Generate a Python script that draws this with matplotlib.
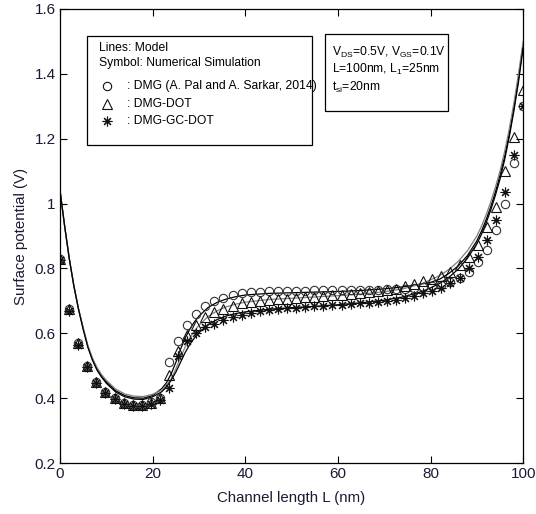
import numpy as np
import matplotlib
matplotlib.use("Agg")
import matplotlib.pyplot as plt
from matplotlib.patches import Rectangle

plt.rcParams['font.family'] = ['Liberation Sans', 'DejaVu Sans']
plt.rcParams['mathtext.fontset'] = 'custom'
plt.rcParams['mathtext.rm'] = 'Liberation Sans'

# ---- simulation points (symbols) ----
x_sim = np.linspace(0, 100, 52)

dmg_sim = [0.83, 0.675, 0.569, 0.50, 0.451, 0.42, 0.40, 0.386, 0.380, 0.380, 0.388, 0.40,
           0.51, 0.575, 0.625, 0.66, 0.685, 0.70, 0.71, 0.718, 0.723, 0.726, 0.728, 0.729,
           0.73, 0.73, 0.731, 0.731, 0.732, 0.732, 0.733, 0.733, 0.734, 0.734, 0.735, 0.735,
           0.736, 0.737, 0.738, 0.74, 0.742, 0.745, 0.75, 0.757, 0.77, 0.79, 0.82, 0.857,
           0.918, 1.0, 1.124, 1.30]

dot_sim = [0.83, 0.675, 0.569, 0.50, 0.451, 0.42, 0.40, 0.386, 0.380, 0.380, 0.386, 0.40,
           0.47, 0.545, 0.595, 0.625, 0.65, 0.665, 0.675, 0.685, 0.692, 0.697, 0.70, 0.703,
           0.705, 0.707, 0.709, 0.711, 0.713, 0.715, 0.717, 0.719, 0.721, 0.723, 0.726, 0.729,
           0.733, 0.738, 0.745, 0.752, 0.76, 0.768, 0.777, 0.788, 0.81, 0.836, 0.872, 0.929,
           0.99, 1.10, 1.205, 1.35]

gcdot_sim = [0.825, 0.67, 0.565, 0.497, 0.448, 0.417, 0.397, 0.383, 0.377, 0.377, 0.383, 0.395,
             0.43, 0.53, 0.575, 0.60, 0.618, 0.63, 0.64, 0.65, 0.657, 0.664, 0.668, 0.672,
             0.675, 0.677, 0.679, 0.681, 0.683, 0.685, 0.686, 0.688, 0.69, 0.692, 0.694, 0.697,
             0.70, 0.704, 0.71, 0.716, 0.723, 0.73, 0.74, 0.754, 0.77, 0.80, 0.836, 0.888,
             0.949, 1.037, 1.15, 1.30]

# ---- model curves (lines) ----
x_model = [0, 1, 2, 3, 4, 5, 6, 7, 8, 9, 10, 12, 14, 16, 18, 20, 22, 23, 24, 25, 26, 27,
           28, 29, 30, 32, 34, 36, 38, 40, 45, 50, 55, 60, 65, 70, 74, 78, 80, 82, 84, 86,
           88, 90, 91, 92, 93, 94, 95, 96, 97, 98, 99, 100]

dmg_model = [1.04, 0.93, 0.83, 0.745, 0.675, 0.615, 0.56, 0.52, 0.49, 0.468, 0.45, 0.423,
             0.408, 0.401, 0.40, 0.408, 0.43, 0.448, 0.475, 0.51, 0.55, 0.585, 0.612, 0.635,
             0.653, 0.68, 0.696, 0.706, 0.713, 0.718, 0.723, 0.725, 0.727, 0.729, 0.732,
             0.737, 0.743, 0.752, 0.757, 0.767, 0.785, 0.808, 0.84, 0.885, 0.915, 0.95,
             0.99, 1.035, 1.087, 1.145, 1.215, 1.295, 1.385, 1.49]

dot_model = [1.04, 0.93, 0.83, 0.745, 0.675, 0.617, 0.563, 0.524, 0.494, 0.472, 0.455, 0.428,
             0.413, 0.406, 0.405, 0.412, 0.425, 0.44, 0.46, 0.49, 0.525, 0.557, 0.585, 0.607,
             0.625, 0.652, 0.67, 0.682, 0.69, 0.696, 0.704, 0.708, 0.712, 0.716, 0.721,
             0.728, 0.737, 0.752, 0.765, 0.778, 0.797, 0.822, 0.855, 0.90, 0.93, 0.965,
             1.005, 1.05, 1.10, 1.16, 1.23, 1.31, 1.40, 1.50]

gcdot_model = [1.04, 0.93, 0.83, 0.745, 0.673, 0.612, 0.557, 0.517, 0.486, 0.464, 0.446, 0.419,
               0.404, 0.397, 0.396, 0.404, 0.42, 0.435, 0.455, 0.48, 0.51, 0.54, 0.565, 0.585,
               0.602, 0.627, 0.643, 0.654, 0.661, 0.666, 0.674, 0.679, 0.683, 0.688, 0.694,
               0.702, 0.712, 0.728, 0.74, 0.754, 0.773, 0.798, 0.832, 0.876, 0.905, 0.94,
               0.98, 1.025, 1.075, 1.135, 1.205, 1.285, 1.375, 1.48]

x_ticks = [0, 20, 40, 60, 80, 100]
y_ticks = [0.2, 0.4, 0.6, 0.8, 1.0, 1.2, 1.4, 1.6]
y_ticklabels = ['0.2', '0.4', '0.6', '0.8', '1', '1.2', '1.4', '1.6']

fig = plt.figure(figsize=(5.36, 5.14), dpi=100)
ax = fig.add_axes([0.112, 0.0992, 0.864, 0.8833])

# model lines
ax.plot(x_model, dmg_model, '-', color='black', lw=0.9)
ax.plot(x_model, dot_model, '-', color='#808080', lw=0.9)
ax.plot(x_model, gcdot_model, '-', color='black', lw=0.9)

# simulation symbols
ax.plot(x_sim, dmg_sim, 'o', mfc='none', mec='#333333', ms=6, mew=0.8, ls='none')
ax.plot(x_sim, dot_sim, '^', mfc='none', mec='#111111', ms=6.5, mew=0.8, ls='none')
ax.plot(x_sim, gcdot_sim, marker=(8, 2, 0), color='#111111', ms=7, mew=0.8, ls='none')

ax.set_xlim(0, 100)
ax.set_ylim(0.2, 1.6)
ax.set_xticks(x_ticks)
ax.set_yticks(y_ticks)
ax.set_yticklabels(y_ticklabels)
ax.tick_params(direction='in', length=5, width=0.8, top=True, right=True,
               labelsize=11, labelcolor='#1a1a33', pad=3)
for s in ax.spines.values():
    s.set_linewidth(0.9)

ax.set_xlabel('Channel length L (nm)', fontsize=10.8, color='#1a1a33', labelpad=7)
ax.set_ylabel('Surface potential (V)', fontsize=10.8, color='#1a1a33', labelpad=5)

FS = 8.7
# key box
ax.add_patch(Rectangle((0.0583, 0.7004), 0.486, 0.2401, transform=ax.transAxes,
                       fill=True, fc='white', ec='black', lw=0.9, zorder=5))
ax.text(0.0842, 0.914, 'Lines: Model', transform=ax.transAxes, fontsize=FS,
        va='center', zorder=6)
ax.text(0.0842, 0.881, 'Symbol: Numerical Simulation', transform=ax.transAxes,
        fontsize=FS, va='center', zorder=6)
key_rows = [('o', 6, ': DMG (A. Pal and A. Sarkar, 2014)', 0.8304),
            ('^', 6.5, ': DMG-DOT', 0.7907),
            ((8, 2, 0), 7, ': DMG-GC-DOT', 0.7533)]
for mk, ms, label, yy in key_rows:
    ax.plot([0.1009], [yy], marker=mk, ms=ms, mfc='none', mec='#111111', mew=0.8,
            ls='none', transform=ax.transAxes, zorder=6, clip_on=False)
    ax.text(0.144, yy, label, transform=ax.transAxes, fontsize=FS, va='center', zorder=6)

# parameter box
ax.add_patch(Rectangle((0.5724, 0.7753), 0.2657, 0.1696, transform=ax.transAxes,
                       fill=True, fc='white', ec='black', lw=0.9, zorder=5))
params = [r'V$_{\mathrm{DS}}$=0.5V, V$_{\mathrm{GS}}$=0.1V',
          r'L=100nm, L$_{\mathrm{1}}$=25nm',
          r't$_{\mathrm{si}}$=20nm']
for txt, yy in zip(params, [0.9053, 0.8678, 0.8282]):
    ax.text(0.5875, yy, txt, transform=ax.transAxes, fontsize=FS, va='center', zorder=6)

fig.savefig('out.png', dpi=100)
